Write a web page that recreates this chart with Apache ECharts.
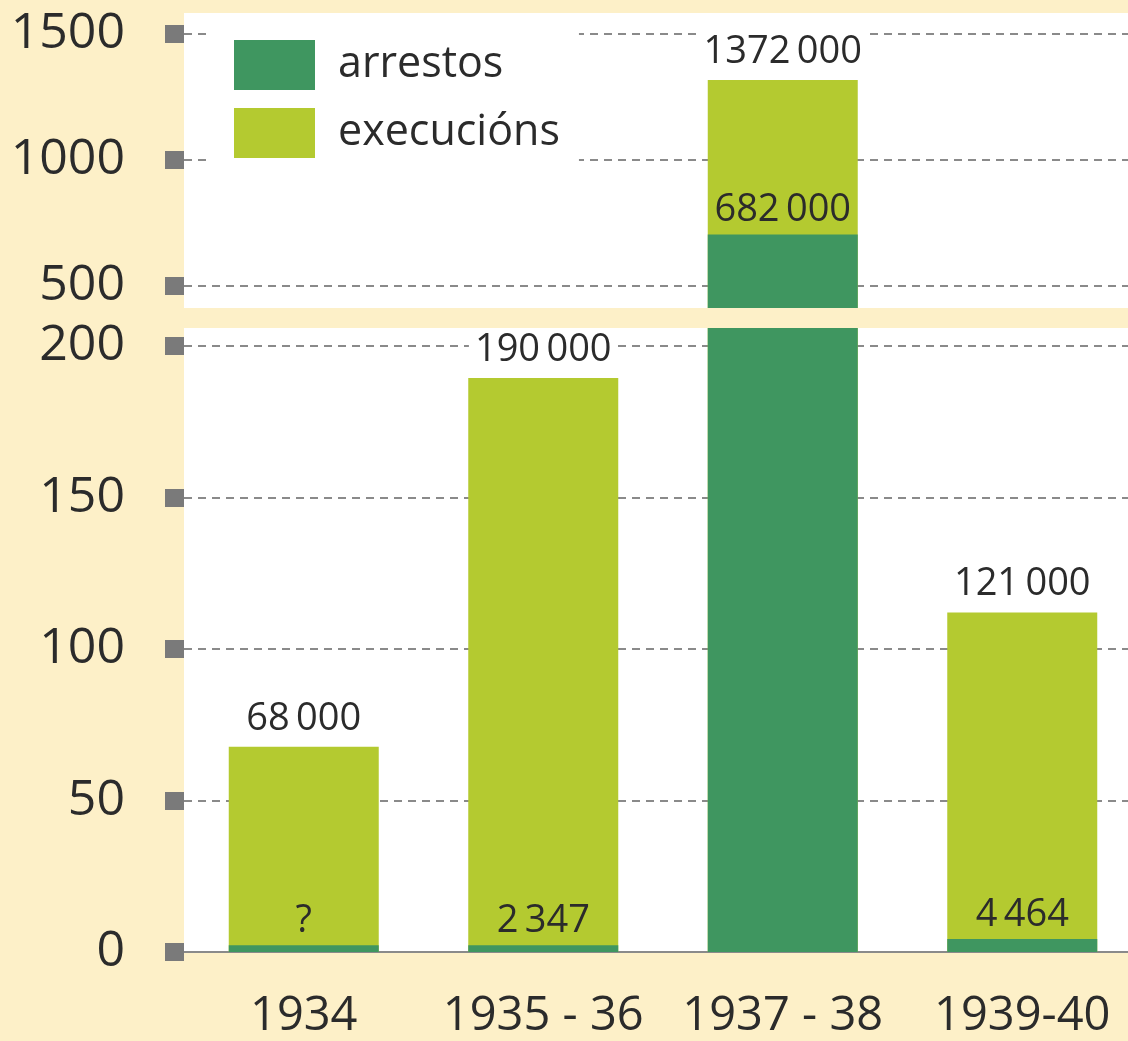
<!DOCTYPE html>
<html>
<head>
<meta charset="utf-8">
<script src="https://cdn.jsdelivr.net/npm/echarts@6/dist/echarts.min.js"></script>
<style>
  html, body { margin: 0; padding: 0; background: #fdf0c8; }
  #main { width: 1128px; height: 1041px; }
</style>
</head>
<body>
<div id="main"></div>
<script>
// valores en miles, tal como están dibujados
const categories = ["1934", "1935 - 36", "1937 - 38", "1939-40"];
const execucions = [67.7, 189.4, 1315, 112];
const arrestos = [2.2, 2.2, 703, 4.3];
const execLabels = ["68\u2009000", "190\u2009000", "1372\u2009000", "121\u2009000"];
const arrestLabels = ["?", "2\u2009347", "682\u2009000", "4\u2009464"];
const topTicks = [500, 1000, 1500];
const bottomTicks = [0, 50, 100, 150, 200];

const FONT = "Open Sans";
const TXT = "#2b2b2b";
const DARK = "#3f9660";
const LIGHT = "#b4ca30";
const GRIDLINE = { type: [8, 6], color: "#8a8a8a", width: 2 };

var myChart = echarts.init(document.getElementById("main"));

// panel superior: só a barra de 1937-38
const inTop = (i) => i === 2;

function yAxisFor(gridIndex, min, max, ticks) {
  return {
    type: "value",
    gridIndex: gridIndex,
    min: min,
    max: max,
    axisLine: { show: false },
    axisTick: {
      show: true,
      length: 19,
      customValues: ticks,
      lineStyle: { color: "#7a7a7a", width: 18 },
    },
    axisLabel: {
      customValues: ticks,
      margin: 59,
      fontSize: 50,
      fontFamily: FONT,
      color: TXT,
      formatter: (v) => String(v),
    },
    splitLine: { show: true, lineStyle: GRIDLINE },
  };
}

function barSeries(name, values, labels, gridIndex, showFn, color, withBg) {
  return {
    name: name,
    type: "bar",
    xAxisIndex: gridIndex,
    yAxisIndex: gridIndex,
    barWidth: 150,
    barGap: "-100%",
    itemStyle: { color: color },
    data: values.map((v, i) => ({ value: v, label: { show: showFn(i) } })),
    label: {
      position: "top",
      distance: withBg ? 9 : 5,
      fontSize: 38,
      fontFamily: FONT,
      color: TXT,
      backgroundColor: withBg ? "#fff" : "transparent",
      padding: withBg ? [0, 6] : 0,
      formatter: (p) => labels[p.dataIndex],
    },
  };
}

var option = {
  animation: false,
  backgroundColor: "#fdf0c8",
  legend: {
    data: ["arrestos", "execucións"],
    orient: "vertical",
    left: 210,
    top: 20,
    padding: [20, 19, 20, 24],
    backgroundColor: "#fff",
    itemWidth: 81,
    itemHeight: 50,
    itemGap: 18,
    icon: "rect",
    textStyle: {
      fontSize: 43,
      fontFamily: FONT,
      color: TXT,
      lineHeight: 50,
      padding: [0, 0, 0, 18],
    },
  },
  grid: [
    { left: 184, top: 13, width: 958, height: 295, show: true, backgroundColor: "#fff", borderWidth: 0, outerBoundsMode: "none" },
    { left: 184, top: 328, width: 958, height: 624, show: true, backgroundColor: "#fff", borderWidth: 0, outerBoundsMode: "none" },
  ],
  xAxis: [
    { type: "category", gridIndex: 0, data: categories, show: false },
    {
      type: "category",
      gridIndex: 1,
      data: categories,
      axisLine: { show: true, lineStyle: { color: "#8a8a8a", width: 2 } },
      axisTick: { show: false },
      axisLabel: { margin: 41, fontSize: 47, fontFamily: FONT, color: TXT, interval: 0 },
    },
  ],
  yAxis: [
    yAxisFor(0, 411, 1581, topTicks),
    yAxisFor(1, 0, 205.9, bottomTicks),
  ],
  series: [
    barSeries("execucións", execucions, execLabels, 0, inTop, LIGHT, true),
    barSeries("arrestos", arrestos, arrestLabels, 0, inTop, DARK, false),
    barSeries("execucións", execucions, execLabels, 1, (i) => !inTop(i), LIGHT, true),
    barSeries("arrestos", arrestos, arrestLabels, 1, (i) => !inTop(i), DARK, false),
  ],
};

myChart.setOption(option);
</script>
</body>
</html>
